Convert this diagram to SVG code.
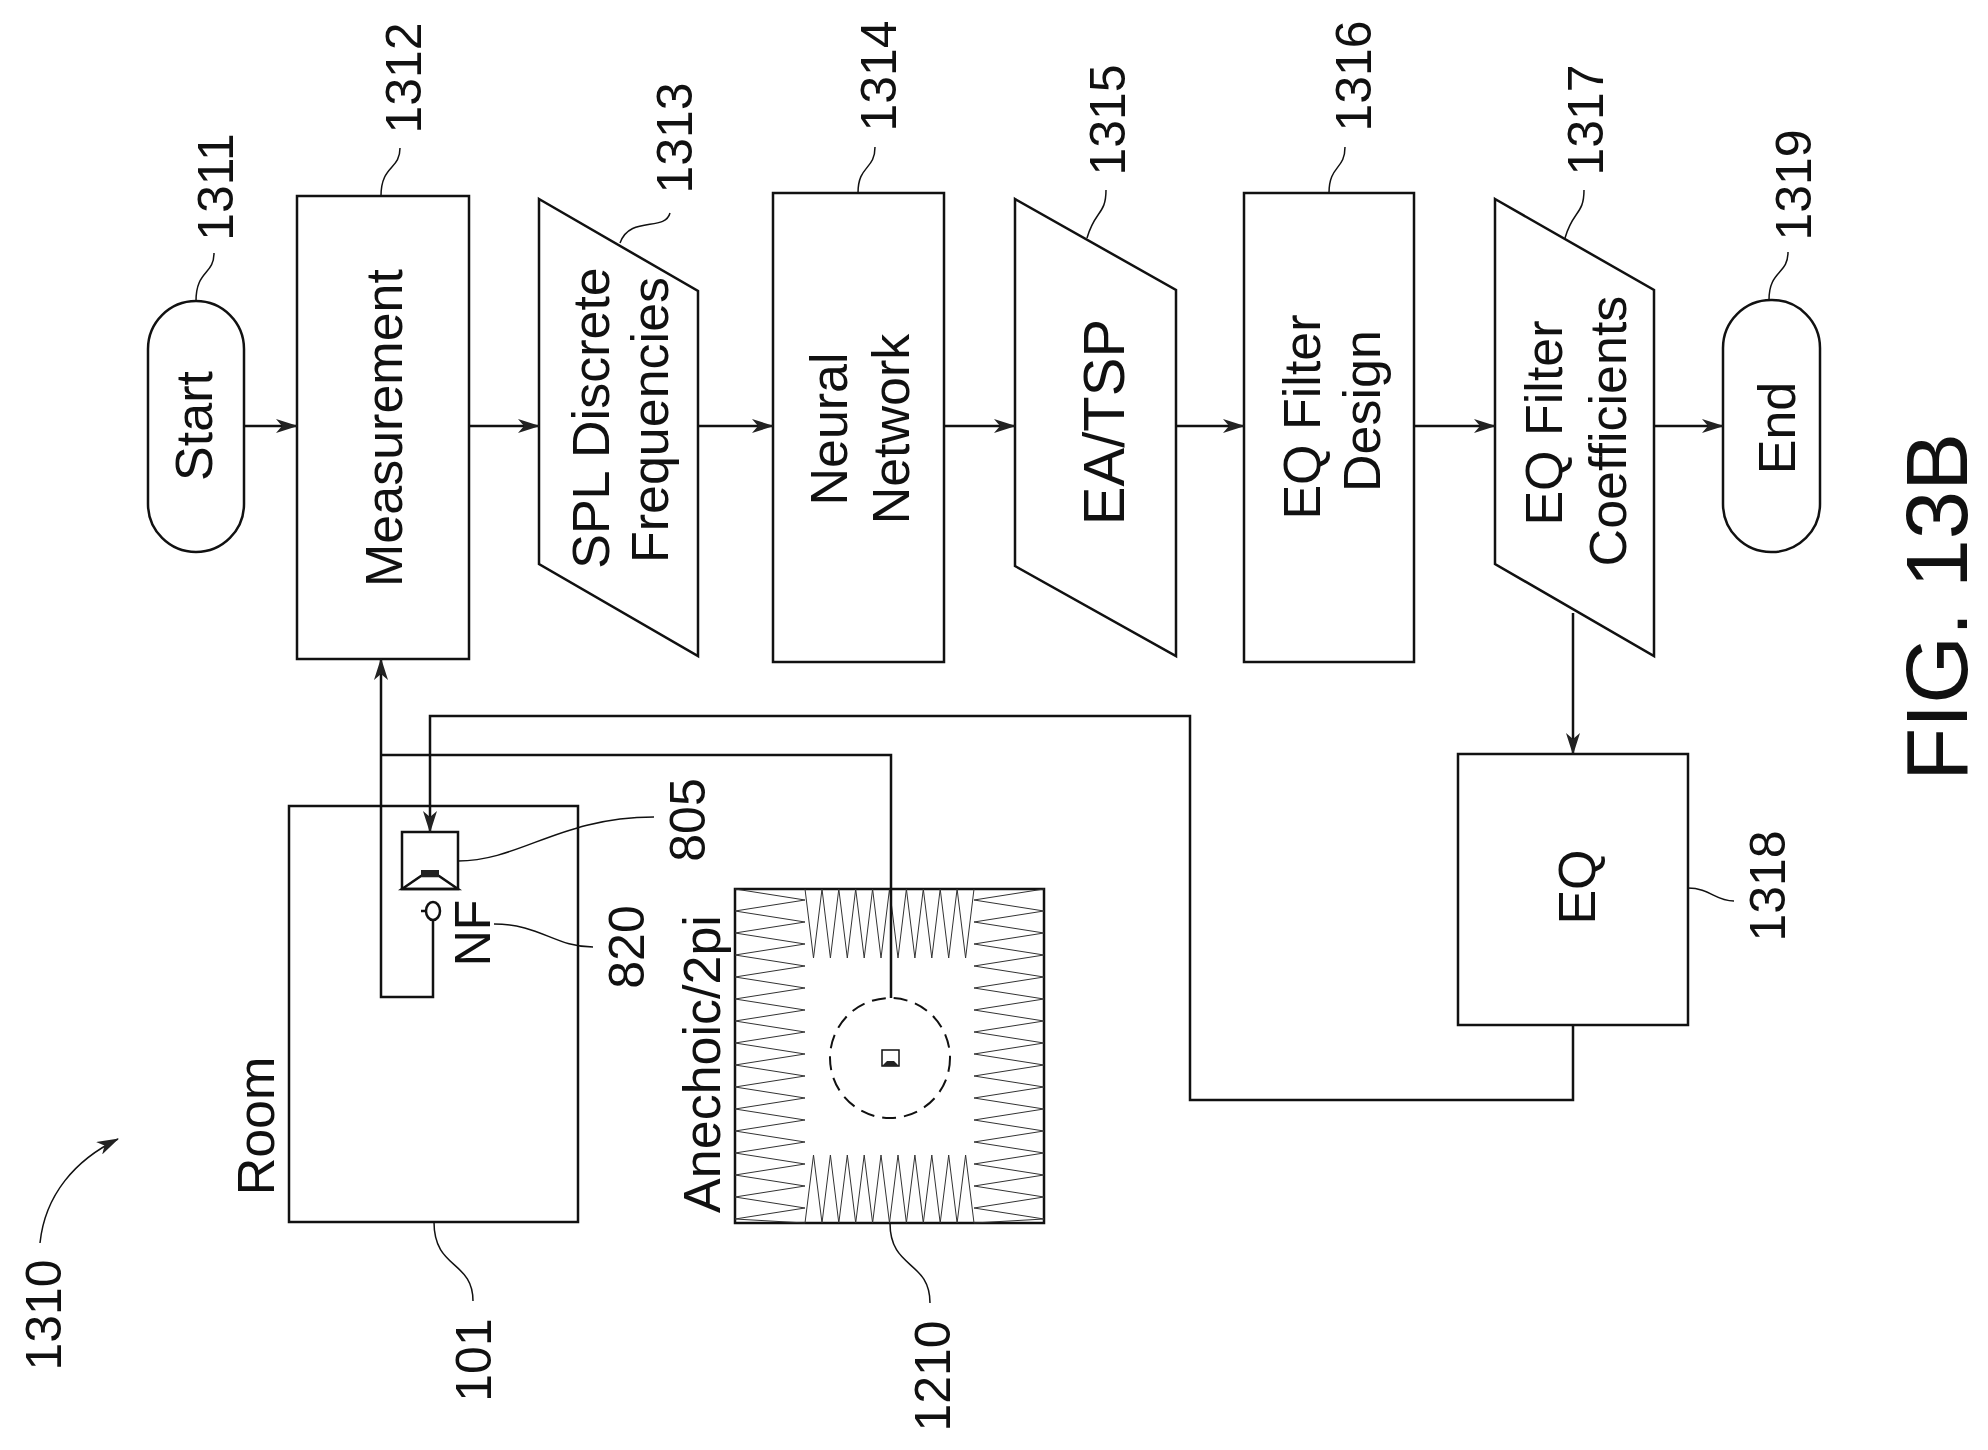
<svg xmlns="http://www.w3.org/2000/svg" width="1988" height="1450" viewBox="0 0 1988 1450">
<defs>
<marker id="ah" markerUnits="userSpaceOnUse" markerWidth="22" markerHeight="14" refX="21" refY="7" orient="auto"><path d="M0,0 L22,7 L0,14 L6,7 z" fill="#222"/></marker>
<style>
.b{fill:#fff;stroke:#111;stroke-width:2.5}
.c{fill:none;stroke:#111;stroke-width:2.5}
.l{fill:none;stroke:#111;stroke-width:1.5}
.w{fill:none;stroke:#333;stroke-width:1}
text{font-family:"Liberation Sans",Arial,sans-serif;fill:#111;text-anchor:middle}
.t{font-size:52px}
.n{font-size:50px}
</style>
</defs>
<rect width="1988" height="1450" fill="#fff"/>
<g id="start"><rect class="b" x="148" y="301" width="96" height="251" rx="48"/><text class="t" transform="translate(212,426) rotate(-90)">Start</text></g>
<g id="measurement"><rect class="b" x="297" y="196" width="172" height="463"/><text class="t" transform="translate(402,428) rotate(-90)">Measurement</text></g>
<g id="spl"><polygon class="b" points="539,199 698,291 698,656 539,564"/><text class="t" transform="translate(609,418) rotate(-90)">SPL Discrete</text><text class="t" transform="translate(668,420) rotate(-90)">Frequencies</text></g>
<g id="nn"><rect class="b" x="773" y="193" width="171" height="469"/><text class="t" transform="translate(847,429) rotate(-90)">Neural</text><text class="t" transform="translate(909,429) rotate(-90)">Network</text></g>
<g id="ea"><polygon class="b" points="1015,199 1176,290 1176,656 1015,566"/><text style="font-size:58px" transform="translate(1124,422) rotate(-90)">EA/TSP</text></g>
<g id="eqfd"><rect class="b" x="1244" y="193" width="170" height="469"/><text class="t" transform="translate(1320,417) rotate(-90)">EQ Filter</text><text class="t" transform="translate(1380,411) rotate(-90)">Design</text></g>
<g id="eqfc"><polygon class="b" points="1495,199 1654,290 1654,656 1495,564"/><text class="t" transform="translate(1562,423) rotate(-90)">EQ Filter</text><text class="t" transform="translate(1626,431) rotate(-90)">Coefficients</text></g>
<g id="end"><rect class="b" x="1723" y="300" width="97" height="252" rx="48"/><text class="t" transform="translate(1795,428) rotate(-90)">End</text></g>
<g id="eq"><rect class="b" x="1458" y="754" width="230" height="271"/><text class="t" transform="translate(1595,887) rotate(-90)">EQ</text></g>
<g id="room"><rect class="b" x="289" y="806" width="289" height="416"/><text class="t" transform="translate(274,1126) rotate(-90)">Room</text></g>
<g id="speaker805"><rect class="b" x="402" y="832" width="56" height="57"/><polygon class="c" points="402,889 421,876 439,876 458,889"/><rect x="421" y="870" width="18" height="7" fill="#222"/></g>
<g id="mic820"><ellipse class="c" cx="433" cy="911" rx="7" ry="9"/><line class="c" x1="421" y1="911" x2="426" y2="911"/><text class="n" transform="translate(490,933) rotate(-90)">NF</text></g>
<g id="anechoic">
<rect class="b" x="735" y="889" width="309" height="334"/>
<polyline class="w" points="735,889 805,900 735,911 805,922 735,933 805,944 735,955 805,966 735,977 805,988 735,999 805,1010 735,1021 805,1032 735,1043 805,1054 735,1065 805,1076 735,1087 805,1098 735,1109 805,1120 735,1131 805,1142 735,1153 805,1164 735,1175 805,1186 735,1197 805,1208 735,1219 805,1223"/>
<polyline class="w" points="1044,889 974,900 1044,911 974,922 1044,933 974,944 1044,955 974,966 1044,977 974,988 1044,999 974,1010 1044,1021 974,1032 1044,1043 974,1054 1044,1065 974,1076 1044,1087 974,1098 1044,1109 974,1120 1044,1131 974,1142 1044,1153 974,1164 1044,1175 974,1186 1044,1197 974,1208 1044,1219 974,1223"/>
<polyline class="w" points="805,889 813.5,958 822,889 830.4,958 838.8,889 847.3,958 855.7,889 864.2,958 872.6,889 881,958 889.5,889 898,958 906.4,889 914.9,958 923.3,889 931.8,958 940.2,889 948.7,958 957.1,889 965.6,958 974,889"/>
<polyline class="w" points="805,1223 813.5,1155 822,1223 830.4,1155 838.8,1223 847.3,1155 855.7,1223 864.2,1155 872.6,1223 881,1155 889.5,1223 898,1155 906.4,1223 914.9,1155 923.3,1223 931.8,1155 940.2,1223 948.7,1155 957.1,1223 965.6,1155 974,1223"/>
<circle cx="890" cy="1058" r="60" fill="#fff" stroke="#111" stroke-width="2" stroke-dasharray="14,8"/>
<rect class="l" x="882" y="1050" width="17" height="16"/><polygon points="882,1066 887,1061 894,1061 899,1066" fill="#222"/>
<text class="t" transform="translate(720,1064) rotate(-90)">Anechoic/2pi</text>
</g>
<g id="connectors">
<line class="c" x1="244" y1="426" x2="297" y2="426" marker-end="url(#ah)"/>
<line class="c" x1="469" y1="426" x2="539" y2="426" marker-end="url(#ah)"/>
<line class="c" x1="698" y1="426" x2="773" y2="426" marker-end="url(#ah)"/>
<line class="c" x1="944" y1="426" x2="1015" y2="426" marker-end="url(#ah)"/>
<line class="c" x1="1176" y1="426" x2="1244" y2="426" marker-end="url(#ah)"/>
<line class="c" x1="1414" y1="426" x2="1495" y2="426" marker-end="url(#ah)"/>
<line class="c" x1="1654" y1="426" x2="1723" y2="426" marker-end="url(#ah)"/>
<line class="c" x1="1573" y1="613" x2="1573" y2="754" marker-end="url(#ah)"/>
<path class="c" d="M1573,1025 V1100 H1190 V716 H430 V832" marker-end="url(#ah)"/>
<path class="c" d="M433,920 V997 H381 V659" marker-end="url(#ah)"/>
<path class="c" d="M381,755 H891 V998"/>
</g>
<g id="labels">
<path class="l" d="M196,301 C196,270 214,275 214,253"/><text class="n" transform="translate(233,187) rotate(-90)">1311</text>
<path class="l" d="M381,196 C381,165 400,170 400,148"/><text class="n" transform="translate(421,78) rotate(-90)">1312</text>
<path class="l" d="M620,243 C630,215 665,232 670,213"/><text class="n" transform="translate(692,138) rotate(-90)">1313</text>
<path class="l" d="M858,193 C858,165 875,170 875,147"/><text class="n" transform="translate(896,76) rotate(-90)">1314</text>
<path class="l" d="M1087,238 C1095,210 1106,215 1106,190"/><text class="n" transform="translate(1125,120) rotate(-90)">1315</text>
<path class="l" d="M1329,193 C1329,165 1345,170 1345,147"/><text class="n" transform="translate(1371,76) rotate(-90)">1316</text>
<path class="l" d="M1565,238 C1573,210 1584,215 1584,190"/><text class="n" transform="translate(1603,120) rotate(-90)">1317</text>
<path class="l" d="M1769,300 C1769,270 1788,275 1788,252"/><text class="n" transform="translate(1811,185) rotate(-90)">1319</text>
<path class="l" d="M1688,888 C1710,888 1715,901 1734,901"/><text class="n" transform="translate(1785,886) rotate(-90)">1318</text>
<path class="l" d="M458,861 C520,861 560,817 654,817"/><text class="n" transform="translate(705,820) rotate(-90)">805</text>
<path class="l" d="M494,924 C540,924 555,947 593,947"/><text class="n" transform="translate(644,947) rotate(-90)">820</text>
<path class="l" d="M434,1222 C434,1270 473,1260 473,1301"/><text class="n" transform="translate(491,1360) rotate(-90)">101</text>
<path class="l" d="M890,1223 C890,1270 930,1260 930,1303"/><text class="n" transform="translate(950,1376) rotate(-90)">1210</text>
<path class="l" d="M40,1243 C45,1195 75,1160 118,1139" marker-end="url(#ah)"/><text class="n" transform="translate(61,1315) rotate(-90)">1310</text>
<text style="font-size:87px" transform="translate(1967,607) rotate(-90)">FIG. 13B</text>
</g>
</svg>
